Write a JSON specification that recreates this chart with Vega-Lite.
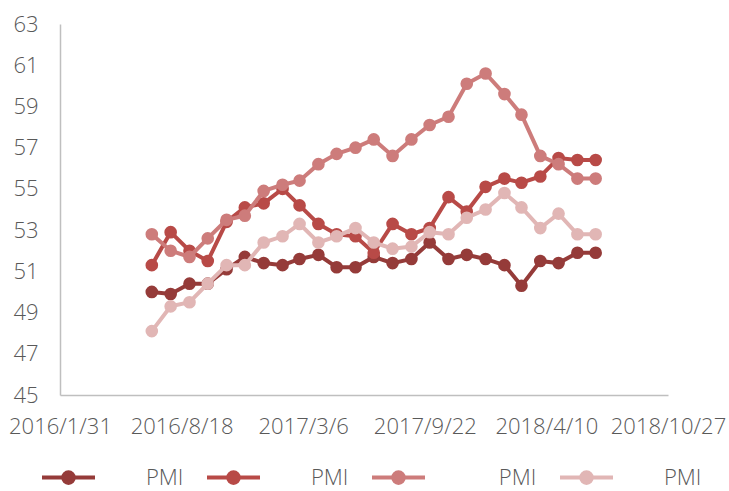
{
  "$schema": "https://vega.github.io/schema/vega-lite/v6.json",
  "autosize": {"type": "none"},
  "width": 608,
  "height": 371,
  "padding": {"left": 60, "top": 24, "right": 61, "bottom": 96},
  "background": "white",
  "config": {
    "view": {"stroke": null},
    "font": "Open Sans"
  },
  "data": {
    "values": [
      {"d":"2016-06-30","s":"S1","v":50.0},{"d":"2016-07-31","s":"S1","v":49.9},{"d":"2016-08-31","s":"S1","v":50.4},{"d":"2016-09-30","s":"S1","v":50.4},{"d":"2016-10-31","s":"S1","v":51.1},{"d":"2016-11-30","s":"S1","v":51.7},{"d":"2016-12-31","s":"S1","v":51.4},{"d":"2017-01-31","s":"S1","v":51.3},{"d":"2017-02-28","s":"S1","v":51.6},{"d":"2017-03-31","s":"S1","v":51.8},{"d":"2017-04-30","s":"S1","v":51.2},{"d":"2017-05-31","s":"S1","v":51.2},{"d":"2017-06-30","s":"S1","v":51.7},{"d":"2017-07-31","s":"S1","v":51.4},{"d":"2017-08-31","s":"S1","v":51.6},{"d":"2017-09-30","s":"S1","v":52.4},{"d":"2017-10-31","s":"S1","v":51.6},{"d":"2017-11-30","s":"S1","v":51.8},{"d":"2017-12-31","s":"S1","v":51.6},{"d":"2018-01-31","s":"S1","v":51.3},{"d":"2018-02-28","s":"S1","v":50.3},{"d":"2018-03-31","s":"S1","v":51.5},{"d":"2018-04-30","s":"S1","v":51.4},{"d":"2018-05-31","s":"S1","v":51.9},{"d":"2018-06-30","s":"S1","v":51.9},
      {"d":"2016-06-30","s":"S2","v":51.3},{"d":"2016-07-31","s":"S2","v":52.9},{"d":"2016-08-31","s":"S2","v":52.0},{"d":"2016-09-30","s":"S2","v":51.5},{"d":"2016-10-31","s":"S2","v":53.4},{"d":"2016-11-30","s":"S2","v":54.1},{"d":"2016-12-31","s":"S2","v":54.3},{"d":"2017-01-31","s":"S2","v":55.0},{"d":"2017-02-28","s":"S2","v":54.2},{"d":"2017-03-31","s":"S2","v":53.3},{"d":"2017-04-30","s":"S2","v":52.8},{"d":"2017-05-31","s":"S2","v":52.7},{"d":"2017-06-30","s":"S2","v":51.9},{"d":"2017-07-31","s":"S2","v":53.3},{"d":"2017-08-31","s":"S2","v":52.8},{"d":"2017-09-30","s":"S2","v":53.1},{"d":"2017-10-31","s":"S2","v":54.6},{"d":"2017-11-30","s":"S2","v":53.9},{"d":"2017-12-31","s":"S2","v":55.1},{"d":"2018-01-31","s":"S2","v":55.5},{"d":"2018-02-28","s":"S2","v":55.3},{"d":"2018-03-31","s":"S2","v":55.6},{"d":"2018-04-30","s":"S2","v":56.5},{"d":"2018-05-31","s":"S2","v":56.4},{"d":"2018-06-30","s":"S2","v":56.4},
      {"d":"2016-06-30","s":"S3","v":52.8},{"d":"2016-07-31","s":"S3","v":52.0},{"d":"2016-08-31","s":"S3","v":51.7},{"d":"2016-09-30","s":"S3","v":52.6},{"d":"2016-10-31","s":"S3","v":53.5},{"d":"2016-11-30","s":"S3","v":53.7},{"d":"2016-12-31","s":"S3","v":54.9},{"d":"2017-01-31","s":"S3","v":55.2},{"d":"2017-02-28","s":"S3","v":55.4},{"d":"2017-03-31","s":"S3","v":56.2},{"d":"2017-04-30","s":"S3","v":56.7},{"d":"2017-05-31","s":"S3","v":57.0},{"d":"2017-06-30","s":"S3","v":57.4},{"d":"2017-07-31","s":"S3","v":56.6},{"d":"2017-08-31","s":"S3","v":57.4},{"d":"2017-09-30","s":"S3","v":58.1},{"d":"2017-10-31","s":"S3","v":58.5},{"d":"2017-11-30","s":"S3","v":60.1},{"d":"2017-12-31","s":"S3","v":60.6},{"d":"2018-01-31","s":"S3","v":59.6},{"d":"2018-02-28","s":"S3","v":58.6},{"d":"2018-03-31","s":"S3","v":56.6},{"d":"2018-04-30","s":"S3","v":56.2},{"d":"2018-05-31","s":"S3","v":55.5},{"d":"2018-06-30","s":"S3","v":55.5},
      {"d":"2016-06-30","s":"S4","v":48.1},{"d":"2016-07-31","s":"S4","v":49.3},{"d":"2016-08-31","s":"S4","v":49.5},{"d":"2016-09-30","s":"S4","v":50.4},{"d":"2016-10-31","s":"S4","v":51.3},{"d":"2016-11-30","s":"S4","v":51.3},{"d":"2016-12-31","s":"S4","v":52.4},{"d":"2017-01-31","s":"S4","v":52.7},{"d":"2017-02-28","s":"S4","v":53.3},{"d":"2017-03-31","s":"S4","v":52.4},{"d":"2017-04-30","s":"S4","v":52.7},{"d":"2017-05-31","s":"S4","v":53.1},{"d":"2017-06-30","s":"S4","v":52.4},{"d":"2017-07-31","s":"S4","v":52.1},{"d":"2017-08-31","s":"S4","v":52.2},{"d":"2017-09-30","s":"S4","v":52.9},{"d":"2017-10-31","s":"S4","v":52.8},{"d":"2017-11-30","s":"S4","v":53.6},{"d":"2017-12-31","s":"S4","v":54.0},{"d":"2018-01-31","s":"S4","v":54.8},{"d":"2018-02-28","s":"S4","v":54.1},{"d":"2018-03-31","s":"S4","v":53.1},{"d":"2018-04-30","s":"S4","v":53.8},{"d":"2018-05-31","s":"S4","v":52.8},{"d":"2018-06-30","s":"S4","v":52.8}
    ]
  },
  "encoding": {
    "x": {
      "field": "d", "type": "temporal",
      "scale": {"type": "utc", "domain": [{"year": 2016, "month": 1, "date": 31, "utc": true}, {"year": 2018, "month": 10, "date": 27, "utc": true}]},
      "axis": {
        "title": null,
        "values": [
          {"year": 2016, "month": 1, "date": 31, "utc": true},
          {"year": 2016, "month": 8, "date": 18, "utc": true},
          {"year": 2017, "month": 3, "date": 6, "utc": true},
          {"year": 2017, "month": 9, "date": 22, "utc": true},
          {"year": 2018, "month": 4, "date": 10, "utc": true},
          {"year": 2018, "month": 10, "date": 27, "utc": true}
        ],
        "format": "%Y/%-m/%-d",
        "grid": false, "ticks": false, "tickSize": 0,
        "domainColor": "#BFBFBF", "domainWidth": 1.5,
        "labelFont": "Open Sans", "labelFontSize": 22, "labelFontWeight": 300, "labelColor": "#595959",
        "labelPadding": 21, "labelOverlap": false, "labelFlush": false
      }
    },
    "y": {
      "field": "v", "type": "quantitative",
      "scale": {"domain": [45, 63], "nice": false, "zero": false},
      "axis": {
        "title": null,
        "values": [45, 47, 49, 51, 53, 55, 57, 59, 61, 63],
        "grid": false, "ticks": false, "tickSize": 0,
        "domainColor": "#BFBFBF", "domainWidth": 1.5,
        "labelFont": "Open Sans", "labelFontSize": 22, "labelFontWeight": 300, "labelColor": "#595959",
        "labelPadding": 22, "labelOverlap": false
      }
    },
    "color": {
      "field": "s", "type": "nominal",
      "scale": {"domain": ["S1", "S2", "S3", "S4"], "range": ["#953B39", "#B84A47", "#CD7C7B", "#E1B6B5"]},
      "legend": {
        "orient": "none", "legendX": -20, "legendY": 425,
        "direction": "horizontal", "columns": 4, "title": null, "padding": 0,
        "symbolType": "M-1,0L1,0M0.2,0A0.2,0.2,0,1,1,-0.2,0A0.2,0.2,0,1,1,0.2,0Z",
        "symbolSize": 2809, "symbolStrokeWidth": 4,
        "labelOffset": 49, "columnPadding": 15,
        "labelFont": "Open Sans", "labelFontSize": 22, "labelFontWeight": 300, "labelColor": "#595959", "labelLimit": 400,
        "labelExpr": "datum.value === 'S3' ? '\u200b\u00a0\u00a0\u00a0\u00a0PMI' : 'PMI'",
        "encode": {"symbols": {"update": {"fill": {"scale": "color", "field": "value"}, "stroke": {"scale": "color", "field": "value"}, "opacity": {"value": 1}}}}
      }
    }
  },
  "layer": [
    {"transform": [{"filter": "datum.s === 'S1'"}], "mark": {"type": "line", "strokeWidth": 4, "point": {"filled": true, "size": 160, "opacity": 1}}},
    {"transform": [{"filter": "datum.s === 'S2'"}], "mark": {"type": "line", "strokeWidth": 4, "point": {"filled": true, "size": 160, "opacity": 1}}},
    {"transform": [{"filter": "datum.s === 'S3'"}], "mark": {"type": "line", "strokeWidth": 4, "point": {"filled": true, "size": 160, "opacity": 1}}},
    {"transform": [{"filter": "datum.s === 'S4'"}], "mark": {"type": "line", "strokeWidth": 4, "point": {"filled": true, "size": 160, "opacity": 1}}}
  ]
}
